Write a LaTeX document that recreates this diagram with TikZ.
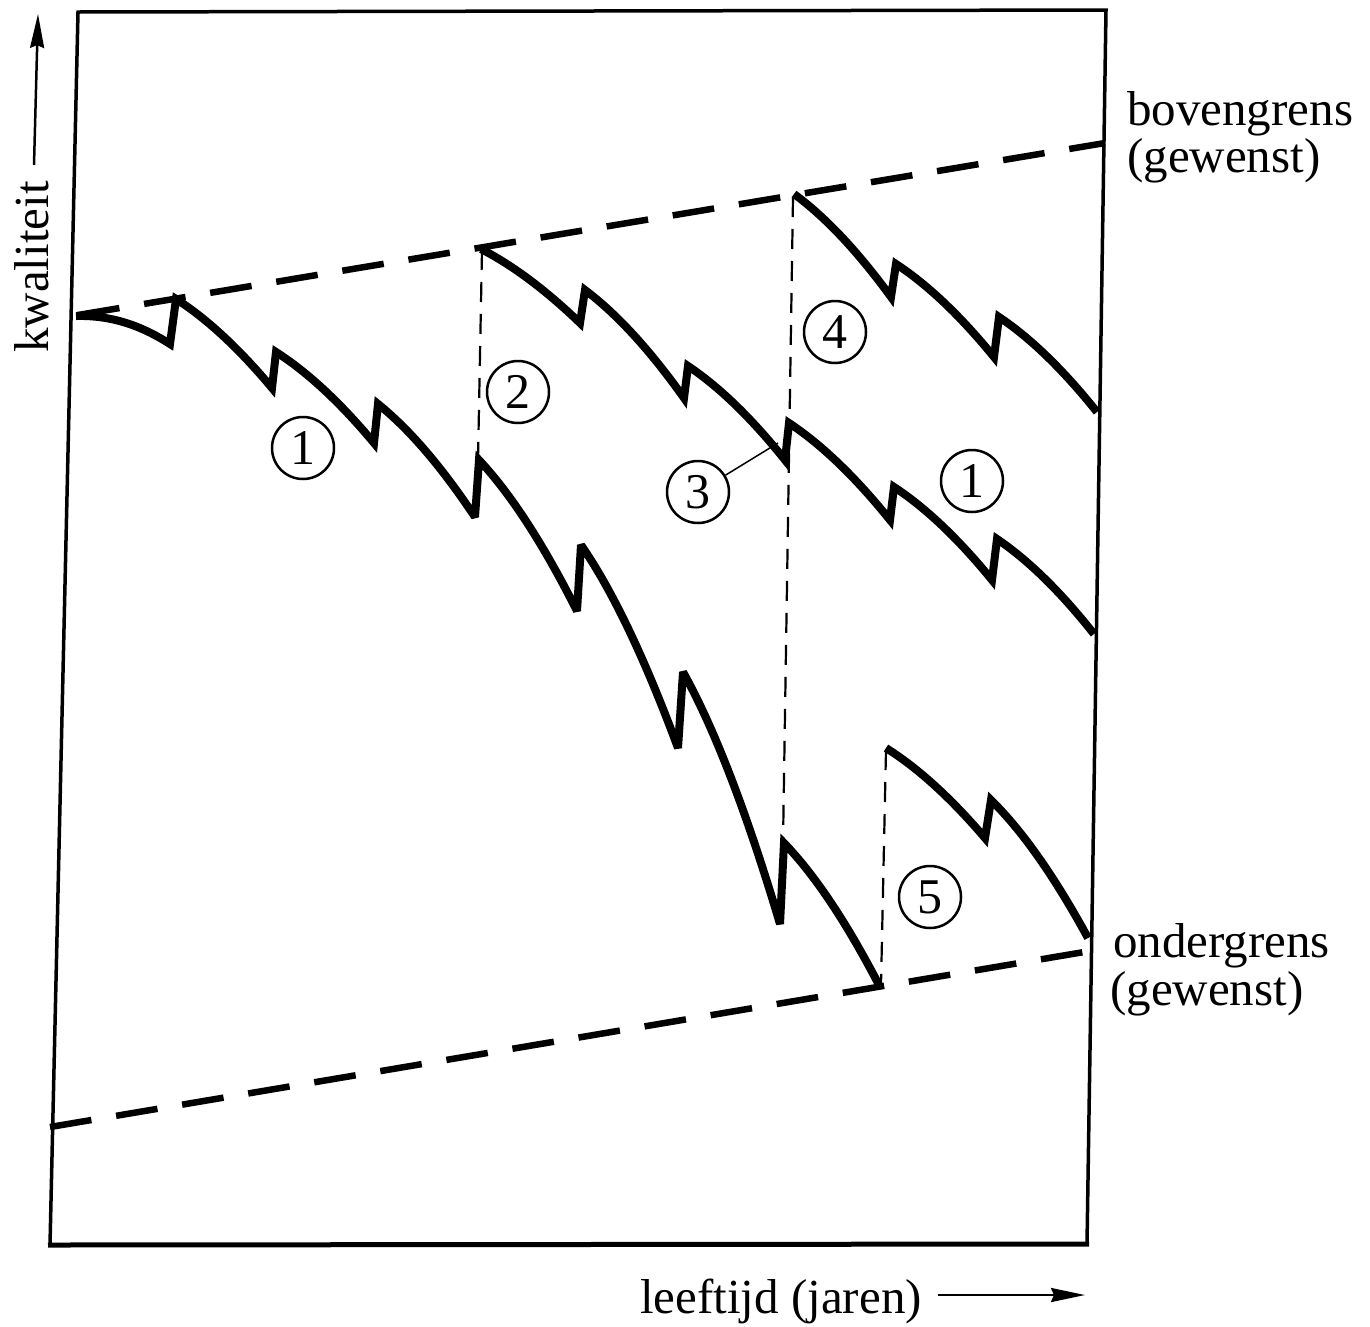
\documentclass[tikz,border=0pt]{standalone}
\usepackage{fontspec}
\setmainfont{Liberation Serif}
\usetikzlibrary{arrows.meta}
\newcommand\dseg[4]{.. controls ({#1+(#3-#1)/3},{#2+0.23*(#4-#2)}) and ({#3-(#3-#1)/3},{#4-0.43*(#4-#2)}) .. (#3,#4)}
\begin{document}
\begin{tikzpicture}[x=1pt,y=-1pt,
  curve/.style={line width=8pt, line join=miter, miter limit=3},
  bound/.style={line width=6.5pt, dash pattern=on 42pt off 25pt},
  guide/.style={line width=2.2pt, dash pattern=on 20pt off 12pt},
  num/.style={circle, draw, line width=2.5pt, minimum size=62pt, inner sep=0pt, font=\fontsize{50}{54}\selectfont},
  lbl/.style={font=\fontsize{49}{55}\selectfont, inner sep=0pt},
  axisarrow/.style={line width=2.5pt, -{Stealth[length=34pt,width=14pt,inset=3pt]}}]
\useasboundingbox[fill=white] (0,0) rectangle (1370,1326);
% frame
\draw[line width=3.5pt] (50,1245) -- (78,12) -- (1106,10) -- (1087,1244);
\draw[line width=5pt] (48,1245) -- (1089,1244);
% bounds
\draw[bound] (78,315) -- (1105,143);
\draw[bound] (50,1127) -- (1090,951);
% guides
\draw[guide] (482,250) -- (478,460);
\draw[guide] (793,197) -- (783,843);
\draw[guide] (886,750) -- (881,985);
% curve A
\draw[curve] (76,316) .. controls (115,315) and (145,328) .. (170,344) -- (176,299)
  \dseg{176}{299}{272}{388} -- (276,352)
  \dseg{276}{352}{374}{443} -- (378,404)
  \dseg{378}{404}{475}{517} -- (479,460)
  \dseg{479}{460}{577}{611} -- (581,545)
  \dseg{581}{545}{678}{748} -- (683,672)
  \dseg{683}{672}{780}{924} -- (784,843)
  \dseg{784}{843}{880}{987};
% curve C + B
\draw[curve] (481,249)
  \dseg{481}{249}{580}{323} -- (585,290)
  \dseg{585}{290}{684}{398} -- (688,366)
  \dseg{688}{366}{785}{460} -- (789,423)
  \dseg{789}{423}{890}{520} -- (894,487)
  \dseg{894}{487}{992}{580} -- (997,539)
  \dseg{997}{539}{1094}{634};
% curve D
\draw[curve] (794,194)
  \dseg{794}{194}{891}{297} -- (896,264)
  \dseg{896}{264}{994}{357} -- (999,317)
  \dseg{999}{317}{1097}{412};
% curve E
\draw[curve] (886,748)
  \dseg{886}{748}{985}{838} -- (991,800)
  \dseg{991}{800}{1088}{938};
% numbers
\node[num] (n1a) at (303,448) {1};
\node[num] (n2) at (518,392) {2};
\node[num] (n3) at (698,492) {3};
\node[num] (n4) at (835,332) {4};
\node[num] (n1b) at (972,481) {1};
\node[num] (n5) at (930,897) {5};
\coordinate (p3) at (778,443);
\draw[line width=1.5pt] (n3) -- (p3);
% labels
\node[lbl, anchor=base west] (bg) at (1127,125) {bovengrens};
\node[lbl, anchor=base west] (bg2) at (1127,172) {(gewenst)};
\node[lbl, anchor=base west] (og) at (1113,957) {ondergrens};
\node[lbl, anchor=base west] (og2) at (1110,1005) {(gewenst)};
\node[lbl, rotate=90, anchor=base] (ky) at (48,267) {kwaliteit};
\node[lbl, anchor=base west] (lx) at (640,1313) {leeftijd (jaren)};
\coordinate (ys) at (34,165);
\coordinate (ye) at (38,14);
\coordinate (xs) at (938,1295);
\coordinate (xe) at (1085,1295);
\draw[axisarrow] (ys) -- (ye);
\draw[axisarrow] (xs) -- (xe);
\end{tikzpicture}
\end{document}
